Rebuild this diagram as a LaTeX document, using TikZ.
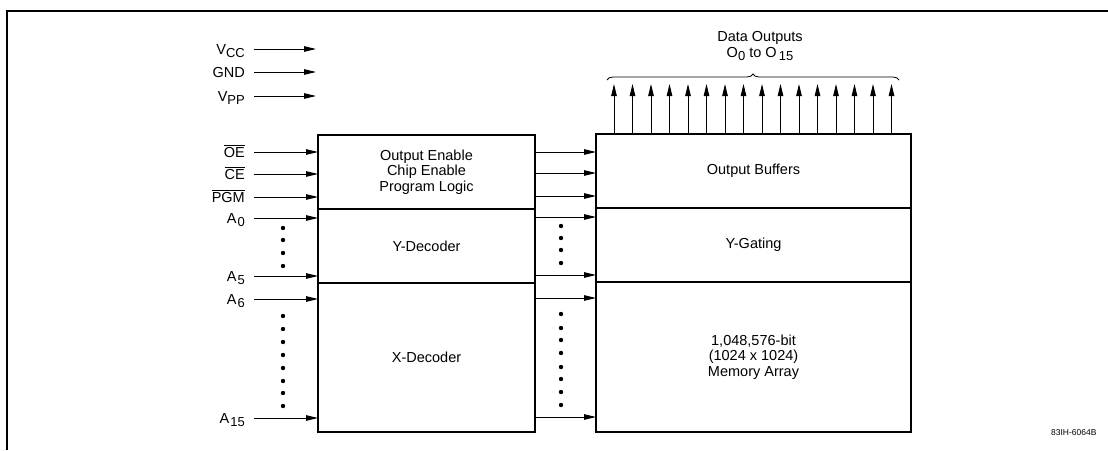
\documentclass[tikz,border=0pt]{standalone}
\usepackage{fontspec}
\setmainfont{Liberation Sans}
\usetikzlibrary{arrows.meta,positioning,decorations.pathreplacing}
\newcommand{\lo}[1]{\raisebox{-0.45ex}{\fontsize{13}{13}\selectfont #1}}
\newcommand{\nbar}[1]{$\overline{\mbox{#1}}$}

\begin{document}
\begin{tikzpicture}[
  x=1pt, y=-1pt,
  font=\fontsize{14.5}{15.5}\selectfont,
  sect/.style={draw, line width=1.1pt, inner sep=0pt, outer sep=0pt, align=center},
  lsect/.style={sect, minimum width=217pt},
  rsect/.style={sect, minimum width=315pt},
  outer/.style={line width=1.8pt},
  pin/.style={anchor=east, inner xsep=9pt, inner ysep=0pt, text height=10pt, text depth=0pt},
  arr/.style={-{Triangle[length=12pt,width=5.5pt]}, line width=0.9pt},
  brc/.style={decorate, decoration={brace, amplitude=6pt}, line width=0.8pt}
]
  \useasboundingbox (0,0) rectangle (1108,450);
  \draw[line width=1.4pt] (7,450) -- (7,11) -- (1108,11);

  % left block
  \node[lsect, minimum height=74pt] (ctl) at (426.5,172) {Output Enable\\Chip Enable\\Program Logic};
  \node[lsect, minimum height=74pt, below=0pt of ctl] (ydec) {Y-Decoder};
  \node[lsect, minimum height=149pt, below=0pt of ydec] (xdec) {X-Decoder};
  \draw[outer] (ctl.north west) rectangle (xdec.south east);

  % right block
  \node[rsect, minimum height=74pt] (obuf) at (753.5,171) {Output Buffers};
  \node[rsect, minimum height=74pt, below=0pt of obuf] (ygat) {Y-Gating};
  \node[rsect, minimum height=150pt, below=0pt of ygat] (mem) {1,048,576-bit\\(1024 x 1024)\\Memory Array};
  \draw[outer] (obuf.north west) rectangle (mem.south east);

  % supplies
  \node[pin] (vcc) at (254,49) {V\lo{CC}};
  \node[pin] (gnd) at (254,72) {GND};
  \node[pin] (vpp) at (254,96) {V\lo{PP}};
  \draw[arr] (vcc.east) -- ++(62,0);
  \draw[arr] (gnd.east) -- ++(62,0);
  \draw[arr] (vpp.east) -- ++(62,0);

  % inputs
  \node[pin] (oe)  at (254,152) {\nbar{OE}};
  \node[pin] (ce)  at (254,174) {\nbar{CE}};
  \node[pin] (pgm) at (254,197) {\nbar{PGM}};
  \node[pin] (a0)  at (254,218) {A\hspace{1pt}\lo{0}};
  \node[pin] (a5)  at (254,276) {A\hspace{1pt}\lo{5}};
  \node[pin] (a6)  at (254,299) {A\hspace{1pt}\lo{6}};
  \node[pin] (a15) at (254,418) {A\hspace{1pt}\lo{15}};
  \foreach \nm in {oe,ce,pgm,a0,a5,a6,a15}
    \draw[arr] (\nm.east) -- (\nm.east -| ctl.west);
  \foreach \y in {228,240,253,266,316,329,342,355,368,381,393,406}
    \fill (283,\y) circle (2.2pt);

  % between blocks
  \foreach \y in {152,173,196,217,275,298,417}
    \draw[arr] (ctl.east |- 0,\y) -- (obuf.west |- 0,\y);
  \foreach \y in {226,238,250,263,314,328,340,353,367,379,392,405}
    \fill (561,\y) circle (2.2pt);

  % data outputs
  \foreach \i in {0,...,15}
    \draw[arr] ([xshift=18+18.5*\i]obuf.north west) -- ++(0,-50);
  \coordinate (bl) at (607,80);
  \coordinate (br) at (899,80);
  \draw[brc] (bl) -- (br);
  \node[align=center] (dout) at (760,46) {Data Outputs\\O\lo{0} to O\lo{\,15}};

  \node[anchor=east, font=\fontsize{8.5}{9}\selectfont] (fig) at (1100,433) {83IH-6064B};
\end{tikzpicture}
\end{document}
